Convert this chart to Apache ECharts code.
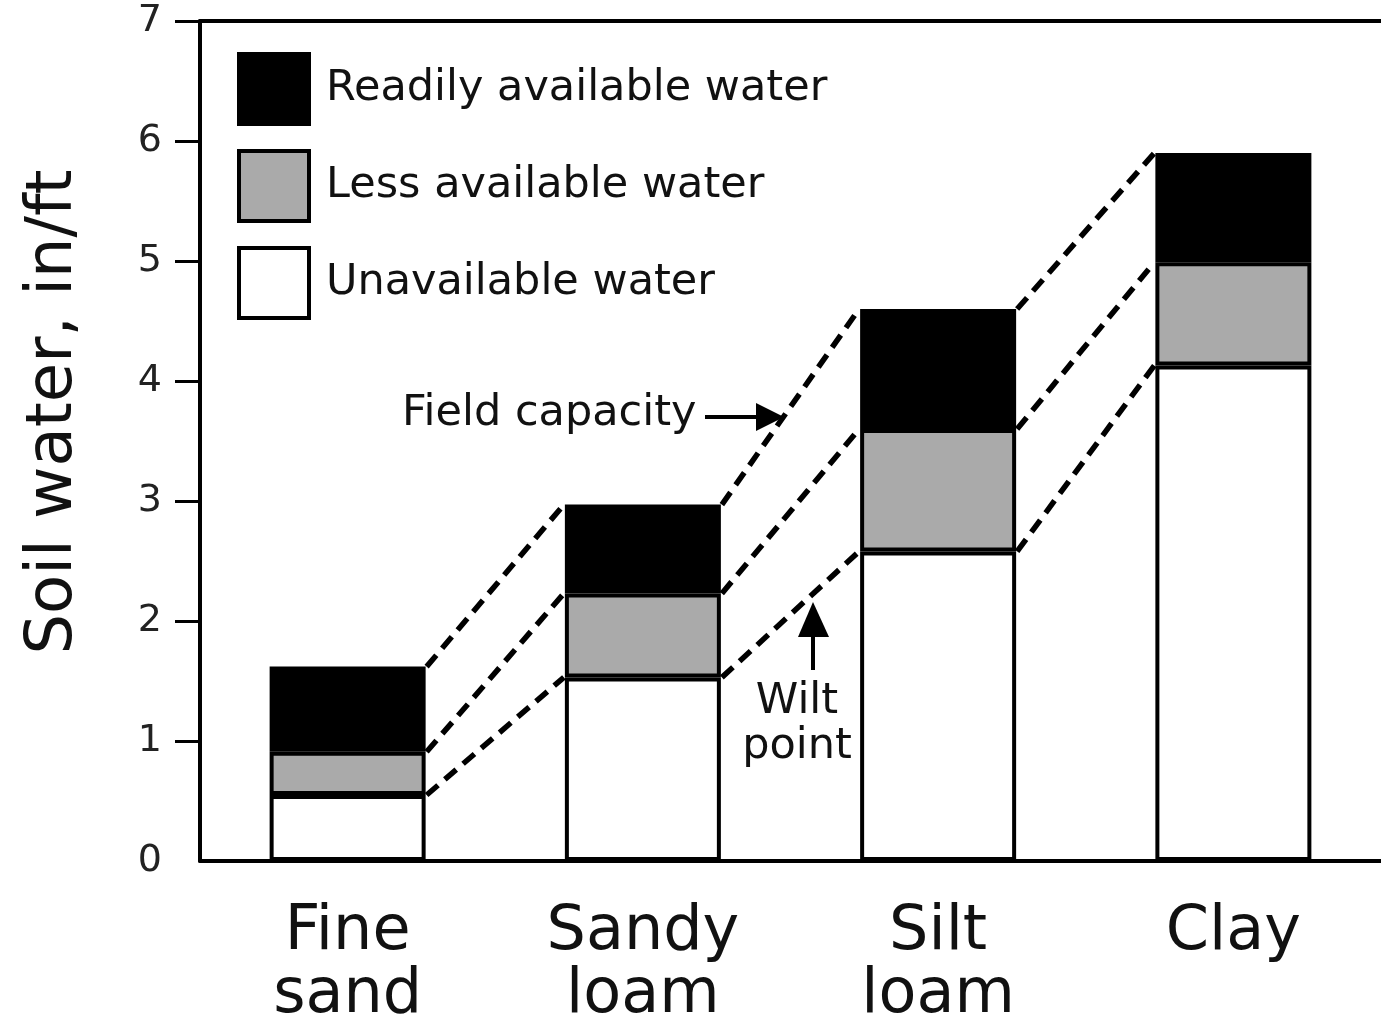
<!DOCTYPE html>
<html>
<head>
<meta charset="utf-8">
<script src="https://cdn.jsdelivr.net/npm/echarts@6/dist/echarts.min.js"></script>
<style>
  html, body { margin: 0; padding: 0; background: #fff; }
  #chart { width: 1381px; height: 1027px; }
</style>
</head>
<body>
<div id="chart"></div>
<script>
// ---- data ----
const categories = ['Fine\nsand', 'Sandy\nloam', 'Silt\nloam', 'Clay'];
const unavailableWater = [0.55, 1.53, 2.58, 4.13];
const lessAvailableWater = [0.36, 0.70, 1.02, 0.86];
const readilyAvailableWater = [0.71, 0.74, 1.00, 0.91];
const yTickValues = [1, 2, 3, 4, 5, 6, 7];
const seriesNames = ['Readily available water', 'Less available water', 'Unavailable water'];

// ---- derived boundaries for the dashed connectors ----
const wiltPoint = unavailableWater.slice();
const midLevel = unavailableWater.map((v, i) => v + lessAvailableWater[i]);
const fieldCapacity = midLevel.map((v, i) => v + readilyAvailableWater[i]);
const connectorData = [];
[wiltPoint, midLevel, fieldCapacity].forEach(b => {
  for (let i = 0; i < b.length - 1; i++) connectorData.push([i, b[i], b[i + 1]]);
});

const BAR_W = 156;
const FONT = 'DejaVu Sans, Verdana, sans-serif';
const INK = '#111';

const chart = echarts.init(document.getElementById('chart'), null, { renderer: 'canvas' });

const barBase = {
  type: 'bar',
  stack: 'soil',
  barWidth: BAR_W,
  xAxisIndex: 0,
  yAxisIndex: 0
};

chart.setOption({
  backgroundColor: '#ffffff',
  animation: false,
  grid: { left: 200, right: 0, top: 21, bottom: 164, containLabel: false },
  legend: {
    orient: 'vertical',
    left: 237,
    top: 52,
    padding: 0,
    itemWidth: 70,
    itemHeight: 70,
    itemGap: 23,
    icon: 'rect',
    data: seriesNames,
    itemStyle: { borderColor: '#000', borderWidth: 4 },
    textStyle: { fontFamily: FONT, fontSize: 43, color: INK, padding: [0, 0, 0, 12] }
  },
  xAxis: [
    {
      type: 'category',
      data: categories,
      position: 'bottom',
      axisLine: { lineStyle: { color: '#000', width: 4 } },
      axisTick: { show: false },
      axisLabel: { fontFamily: FONT, fontSize: 62, lineHeight: 63, color: INK, margin: 40, interval: 0 }
    },
    {
      type: 'category',
      data: categories,
      position: 'top',
      axisLine: { show: true, lineStyle: { color: '#000', width: 4 } },
      axisTick: { show: false },
      axisLabel: { show: false }
    }
  ],
  yAxis: {
    type: 'value',
    min: 0,
    max: 7,
    interval: 1,
    name: 'Soil water, in/ft',
    nameLocation: 'middle',
    nameGap: 114,
    nameTextStyle: { fontFamily: FONT, fontSize: 64, color: INK, padding: [0, 0, 0, 58] },
    axisLine: { show: true, lineStyle: { color: '#000', width: 4 } },
    axisTick: { show: true, inside: false, length: 25, lineStyle: { color: '#000', width: 3 }, customValues: yTickValues },
    axisLabel: { fontFamily: FONT, fontSize: 38, color: '#222', margin: 38 },
    splitLine: { show: false }
  },
  series: [
    Object.assign({}, barBase, {
      name: seriesNames[2],
      data: unavailableWater,
      itemStyle: { color: '#ffffff', borderColor: '#000', borderWidth: 4 }
    }),
    Object.assign({}, barBase, {
      name: seriesNames[1],
      data: lessAvailableWater,
      itemStyle: { color: '#aaaaaa', borderColor: '#000', borderWidth: 4 }
    }),
    Object.assign({}, barBase, {
      name: seriesNames[0],
      data: readilyAvailableWater,
      itemStyle: { color: '#000000', borderColor: '#000', borderWidth: 4 }
    }),
    {
      type: 'custom',
      name: 'connectors',
      xAxisIndex: 0,
      yAxisIndex: 0,
      data: connectorData,
      encode: { x: 0, y: 1 },
      clip: false,
      z: 5,
      silent: true,
      renderItem: function (params, api) {
        const i = api.value(0);
        const p1 = api.coord([i, api.value(1)]);
        const p2 = api.coord([i + 1, api.value(2)]);
        const half = BAR_W / 2 + 1;
        return {
          type: 'line',
          shape: { x1: p1[0] + half, y1: p1[1], x2: p2[0] - half, y2: p2[1] },
          style: { stroke: '#000', lineWidth: 5.5, lineDash: [15, 9], fill: null }
        };
      }
    }
  ],
  graphic: [
    { type: 'text', left: 402, top: 392, style: { text: 'Field capacity', fontFamily: FONT, fontSize: 43, fill: INK } },
    { type: 'line', shape: { x1: 705, y1: 417, x2: 762, y2: 417 }, style: { stroke: '#000', lineWidth: 4 } },
    { type: 'polygon', shape: { points: [[784, 417], [756, 403], [756, 431]] }, style: { fill: '#000' } },
    { type: 'text', x: 797, y: 679, style: { text: 'Wilt\npoint', fontFamily: FONT, fontSize: 43, lineHeight: 45, fill: INK, align: 'center', verticalAlign: 'top' } },
    { type: 'line', shape: { x1: 813, y1: 670, x2: 813, y2: 630 }, style: { stroke: '#000', lineWidth: 4 } },
    { type: 'polygon', shape: { points: [[813, 602], [798, 637], [829, 637]] }, style: { fill: '#000' } }
  ]
});
</script>
</body>
</html>
